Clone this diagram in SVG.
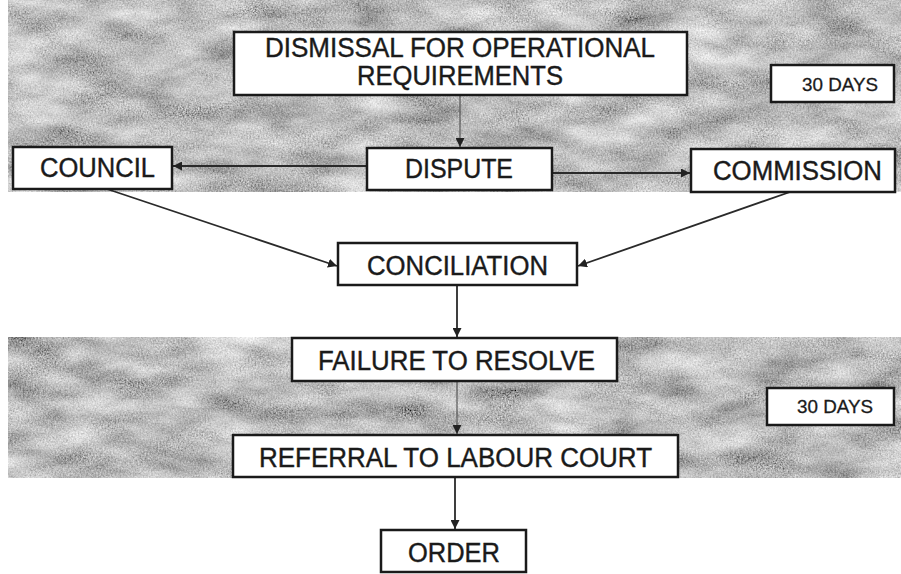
<svg xmlns="http://www.w3.org/2000/svg" width="901" height="574" viewBox="0 0 901 574">
  <defs>
    <filter id="grain" x="0" y="0" width="100%" height="100%">
      <feTurbulence type="fractalNoise" baseFrequency="0.015 0.04" numOctaves="3" seed="7" result="coarse"/>
      <feTurbulence type="fractalNoise" baseFrequency="0.6" numOctaves="2" seed="3" result="fine"/>
      <feComposite in="coarse" in2="fine" operator="arithmetic" k1="0" k2="0.7" k3="0.5" k4="-0.05" result="mix"/>
      <feColorMatrix in="mix" type="matrix" values="1.25 0 0 0 -0.06  1.25 0 0 0 -0.06  1.25 0 0 0 -0.06  0 0 0 0 1"/>
    </filter>
    <marker id="ah" viewBox="0 0 10 10" refX="10" refY="5" markerWidth="9" markerHeight="9" markerUnits="userSpaceOnUse" orient="auto">
      <path d="M0,0 L10,5 L0,10 z" fill="#222"/>
    </marker>
    <style>
      .band { filter: url(#grain); }
      .box { fill: #fff; stroke: #1a1a1a; stroke-width: 2.5; }
      .t { font-family: "Liberation Sans", Arial, sans-serif; fill: #1a1a1a; stroke: #1a1a1a; stroke-width: 0.4; font-size: 27px; }
      .s { font-size: 19px; stroke-width: 0.3; }
      .c { fill: none; stroke: #2a2a2a; stroke-width: 1.8; marker-end: url(#ah); }
      .cf { stroke: #555; stroke-width: 1.2; }
    </style>
  </defs>
  <rect width="901" height="574" fill="#fff"/>
  <g id="bands">
    <rect class="band" x="8" y="0" width="893" height="192" fill="#aaa"/>
    <rect class="band" x="8" y="337" width="893" height="141" fill="#aaa"/>
  </g>
  <g id="connectors">
    <line class="c cf" x1="460" y1="95" x2="460" y2="147"/>
    <line class="c" x1="367" y1="166" x2="173" y2="166"/>
    <line class="c" x1="552" y1="173" x2="690" y2="173"/>
    <line class="c" x1="107" y1="189" x2="337" y2="266"/>
    <line class="c" x1="790" y1="192" x2="578" y2="266"/>
    <line class="c" x1="457" y1="285" x2="457" y2="337"/>
    <line class="c cf" x1="457" y1="381" x2="457" y2="434"/>
    <line class="c" x1="455" y1="477" x2="455" y2="529"/>
  </g>
  <g id="dismissal">
    <rect class="box" x="234" y="32" width="453" height="63"/>
    <text class="t" x="265" y="57" font-size="22" textLength="390" lengthAdjust="spacingAndGlyphs">DISMISSAL FOR OPERATIONAL</text>
    <text class="t" x="357" y="85" font-size="22" textLength="206" lengthAdjust="spacingAndGlyphs">REQUIREMENTS</text>
  </g>
  <g id="days1">
    <rect class="box" x="771" y="65" width="123" height="37"/>
    <text class="t s" x="802" y="91" textLength="76" lengthAdjust="spacingAndGlyphs">30 DAYS</text>
  </g>
  <g id="council">
    <rect class="box" x="13" y="147" width="159" height="42"/>
    <text class="t" x="40" y="177" textLength="115" lengthAdjust="spacingAndGlyphs">COUNCIL</text>
  </g>
  <g id="dispute">
    <rect class="box" x="367" y="148" width="185" height="42"/>
    <text class="t" x="405" y="178" textLength="108" lengthAdjust="spacingAndGlyphs">DISPUTE</text>
  </g>
  <g id="commission">
    <rect class="box" x="691" y="149" width="204" height="43"/>
    <text class="t" x="713" y="180" textLength="169" lengthAdjust="spacingAndGlyphs">COMMISSION</text>
  </g>
  <g id="conciliation">
    <rect class="box" x="338" y="243" width="239" height="42"/>
    <text class="t" x="367" y="275" textLength="181" lengthAdjust="spacingAndGlyphs">CONCILIATION</text>
  </g>
  <g id="failure">
    <rect class="box" x="292" y="338" width="325" height="43"/>
    <text class="t" x="318" y="370" textLength="277" lengthAdjust="spacingAndGlyphs">FAILURE TO RESOLVE</text>
  </g>
  <g id="days2">
    <rect class="box" x="767" y="388" width="127" height="37"/>
    <text class="t s" x="797" y="413" textLength="76" lengthAdjust="spacingAndGlyphs">30 DAYS</text>
  </g>
  <g id="referral">
    <rect class="box" x="233" y="435" width="445" height="42"/>
    <text class="t" x="259" y="467" textLength="393" lengthAdjust="spacingAndGlyphs">REFERRAL TO LABOUR COURT</text>
  </g>
  <g id="order">
    <rect class="box" x="381" y="530" width="145" height="42"/>
    <text class="t" x="408" y="562" textLength="92" lengthAdjust="spacingAndGlyphs">ORDER</text>
  </g>
</svg>
